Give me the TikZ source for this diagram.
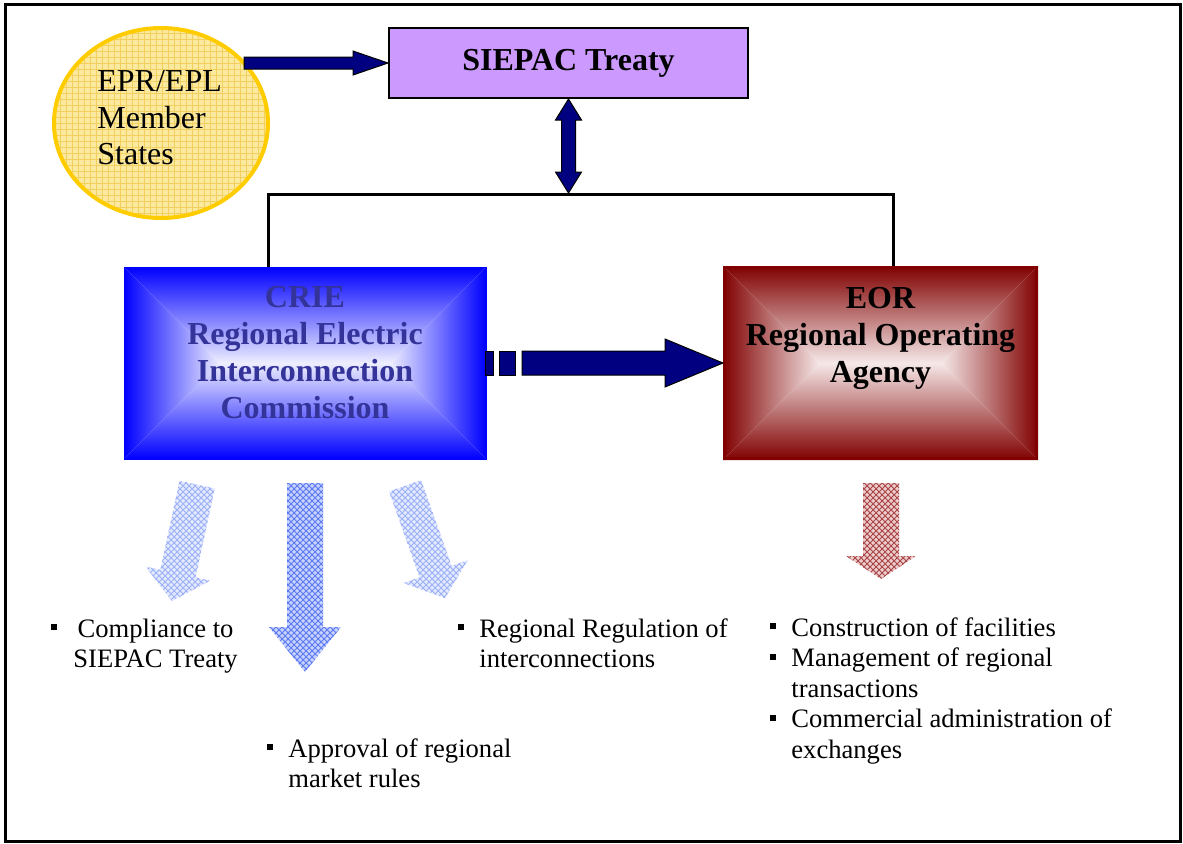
\documentclass[tikz,border=0pt]{standalone}
\usepackage{fontspec}
\setmainfont{Liberation Serif}
\usetikzlibrary{shapes.geometric,patterns}

\definecolor{navyfill}{HTML}{000080}
\definecolor{lilac}{HTML}{CC99FF}
\definecolor{goldline}{HTML}{FFCC00}
\definecolor{goldfill}{HTML}{FCE9A0}
\definecolor{goldhatch}{HTML}{F2D060}
\definecolor{crieblue}{HTML}{0000FF}
\definecolor{criecentre}{HTML}{EEEEFF}
\definecolor{crieink}{HTML}{333399}
\definecolor{eorred}{HTML}{800000}
\definecolor{eorcentre}{HTML}{F6E8E8}
\definecolor{midhatchfill}{HTML}{C8D2FF}
\definecolor{midhatchline}{HTML}{5A78F0}
\definecolor{palehatchfill}{HTML}{E4EAFF}
\definecolor{palehatchline}{HTML}{9CB0F8}
\definecolor{redhatchfill}{HTML}{ECCCCC}
\definecolor{redhatchline}{HTML}{A84444}

\newcommand{\bul}{\raisebox{3.5pt}{\rule{3pt}{3pt}}}

\tikzset{
	navyarrow/.style={fill=navyfill, draw=black, line width=0.5pt, line join=miter},
	midhatch/.style={preaction={fill=midhatchfill}, pattern=crosshatch, pattern color=midhatchline},
	palehatch/.style={preaction={fill=palehatchfill}, pattern=crosshatch, pattern color=palehatchline},
	redhatch/.style={preaction={fill=redhatchfill}, pattern=crosshatch, pattern color=redhatchline},
	boxtext/.style={font=\fontsize{16}{18.5}\selectfont\bfseries, align=center, inner sep=0pt},
	listtext/.style={font=\fontsize{13.3}{15.3}\selectfont, inner sep=0pt, anchor=base west}
}

\begin{document}
\begin{tikzpicture}[x=0.5pt, y=-0.5pt]
		\useasboundingbox (0,0) rectangle (1183,843);
		\fill[white] (0,0) rectangle (1183,843);
		\draw[line width=1.5pt] (5,4) rectangle (1180,841);

		\node[ellipse, draw=goldline, line width=2pt, minimum width=107pt, minimum height=95pt, preaction={fill=goldfill}, pattern=grid, pattern color=goldhatch] (states) at (161,123) {};
		\node[anchor=north west, align=left, inner sep=0pt, font=\fontsize{16}{18.3}\selectfont] (statestext) at (97,70) {EPR/EPL\\Member\\States};

		\node[draw, line width=1pt, fill=lilac, minimum width=179.5pt, minimum height=35pt, boxtext] (treaty) at (568.5,63) {SIEPAC Treaty};

		% CRIE box, shaded from the rim to the middle
		\shade[top color=crieblue, bottom color=criecentre] (124,267) -- (486,267) -- (390,363) -- (220,363) -- cycle;
		\shade[bottom color=crieblue, top color=criecentre] (124,459) -- (486,459) -- (390,363) -- (220,363) -- cycle;
		\shade[left color=crieblue, right color=criecentre] (124,267) -- (220,363) -- (124,459) -- cycle;
		\shade[right color=crieblue, left color=criecentre] (486,267) -- (390,363) -- (486,459) -- cycle;
		\node[draw=crieblue, line width=0.5pt, minimum width=181pt, minimum height=96pt] (crie) at (305,363) {};
		\node[boxtext, text=crieink, anchor=north] (crielabel) at (305,286) {CRIE\\Regional Electric\\Interconnection\\Commission};

		% EOR box
		\shade[top color=eorred, bottom color=eorcentre] (723,266) -- (1038,266) -- (941,363) -- (820,363) -- cycle;
		\shade[bottom color=eorred, top color=eorcentre] (723,460) -- (1038,460) -- (941,363) -- (820,363) -- cycle;
		\shade[left color=eorred, right color=eorcentre] (723,266) -- (820,363) -- (723,460) -- cycle;
		\shade[right color=eorred, left color=eorcentre] (1038,266) -- (941,363) -- (1038,460) -- cycle;
		\node[draw=eorred, line width=1.5pt, minimum width=156pt, minimum height=95.5pt] (eor) at (880.5,363) {};
		\node[boxtext, anchor=north] (eorlabel) at (880.5,287) {EOR\\Regional Operating\\Agency};

		\coordinate (jl) at (268,194);
		\coordinate (jr) at (893,194);
		\coordinate (jm) at (568.5,194);
		\draw[line width=1.5pt] (jl |- crie.north) -- (jl) -- (jr) -- (jr |- eor.north);

		\begin{scope}[shift={(treaty.west)}]
			\filldraw[navyarrow] (-144,-6) -- (-35,-6) -- (-35,-12) -- (0,0) -- (-35,12) -- (-35,6) -- (-144,6) -- cycle;
		\end{scope}
		\begin{scope}[shift={(treaty.south)}]
			\filldraw[navyarrow] (0,0) -- (13,21) -- (7,21) -- (7,73) -- (13,73) -- (0,94) -- (-13,73) -- (-7,73) -- (-7,21) -- (-13,21) -- cycle;
		\end{scope}
		\begin{scope}[shift={(eor.west)}]
			\filldraw[navyarrow] (-238,-12) rectangle (-230,12);
			\filldraw[navyarrow] (-224,-12) rectangle (-208,12);
			\filldraw[navyarrow] (-201,-12) -- (-58,-12) -- (-58,-24) -- (0,0) -- (-58,24) -- (-58,12) -- (-201,12) -- cycle;
		\end{scope}

		\begin{scope}[shift={(172,601)}, rotate=-12.2]
			\fill[palehatch] (-18,-119) -- (18,-119) -- (18,-28) -- (33,-28) -- (0,0) -- (-33,-28) -- (-18,-28) -- cycle;
		\end{scope}
		\begin{scope}[shift={(305,672)}]
			\fill[midhatch] (-18,-189) -- (18,-189) -- (18,-45) -- (36,-45) -- (0,0) -- (-36,-45) -- (-18,-45) -- cycle;
		\end{scope}
		\begin{scope}[shift={(445,598)}, rotate=19.6]
			\fill[palehatch] (-17,-119) -- (17,-119) -- (17,-28) -- (34,-28) -- (0,0) -- (-34,-28) -- (-17,-28) -- cycle;
		\end{scope}
		\begin{scope}[shift={(881,579)}]
			\fill[redhatch] (-18,-96) -- (18,-96) -- (18,-23) -- (35,-23) -- (0,0) -- (-35,-23) -- (-18,-23) -- cycle;
		\end{scope}

		\node[listtext] (compliance) at (51,637) {\begin{tabular}[t]{@{}l@{\hspace{8pt}}c@{}}\bul & Compliance to\\ & SIEPAC Treaty\end{tabular}};
		\node[listtext] (regulation) at (458,637) {\begin{tabular}[t]{@{}l@{\hspace{7.5pt}}l@{}}\bul & Regional Regulation of\\ & interconnections\end{tabular}};
		\node[listtext] (approval) at (267,757) {\begin{tabular}[t]{@{}l@{\hspace{7.5pt}}l@{}}\bul & Approval of regional\\ & market rules\end{tabular}};
		\node[listtext] (eorlist) at (770,636) {\begin{tabular}[t]{@{}l@{\hspace{7.5pt}}l@{}}\bul & Construction of facilities\\ \bul & Management of regional\\ & transactions\\ \bul & Commercial administration of\\ & exchanges\end{tabular}};

	\end{tikzpicture}
\end{document}
